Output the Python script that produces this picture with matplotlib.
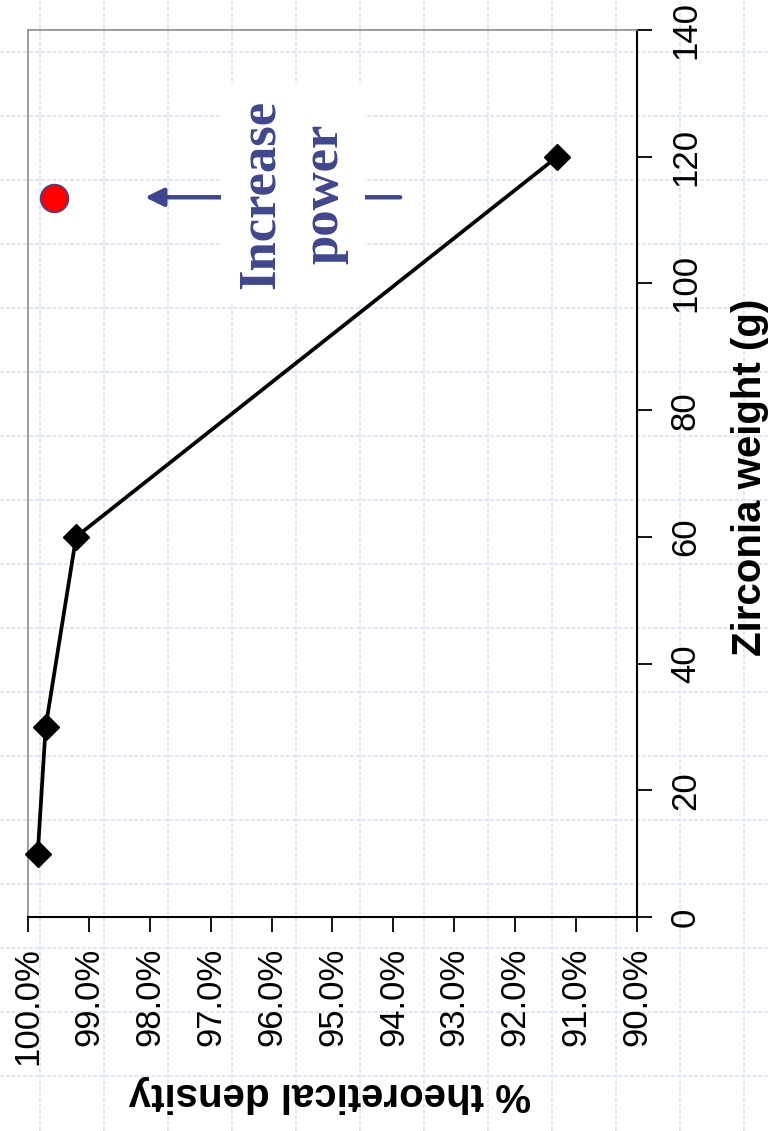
import matplotlib
matplotlib.use('Agg')
import matplotlib.pyplot as plt
import numpy as np

weight = [10, 30, 60, 120]              # zirconia weight (g)
density = [99.84, 99.71, 99.21, 91.31]  # % theoretical density
high_power_weight = [113.5]
high_power_density = [99.57]

density_ticks = np.arange(90, 101, 1)
weight_ticks = np.arange(0, 141, 20)

navy = '#3f468f'
sans = ['Liberation Sans', 'DejaVu Sans']
serif = ['Liberation Serif', 'DejaVu Serif']

fig = plt.figure(figsize=(7.7, 11.31), dpi=100)

# slide background: dashed light blue grid over the whole page
bg = fig.add_axes([0, 0, 1, 1], zorder=0)
bg.set_xlim(0, 770)
bg.set_ylim(1131, 0)
bg.set_xticks(np.arange(40, 770, 64))
bg.set_yticks(np.arange(52, 1131, 64))
bg.grid(True, color='#d9e1fa', linewidth=1.2, linestyle=(0, (2.4, 1.1)))
bg.tick_params(length=0, labelbottom=False, labelleft=False)
for s in bg.spines.values():
    s.set_visible(False)

# chart is drawn turned a quarter turn: density runs along x, weight along y
ax = fig.add_axes([28/770, 214/1131, 609/770, 887/1131], zorder=1)
ax.patch.set_alpha(0)
ax.set_xlim(100, 90)
ax.set_ylim(0, 140)

ax.plot(density, weight, color='black', lw=2.7, marker='D', ms=13,
        mfc='black', mec='black', zorder=4, clip_on=False)
ax.plot(high_power_density, high_power_weight, 'o', ms=20, mfc='red',
        mec=navy, mew=1.2, zorder=4, clip_on=False)

ax.set_xticks(density_ticks)
ax.set_xticklabels(['%.1f%%' % d for d in density_ticks], rotation=90,
                   family=sans, fontsize=25)
ax.set_yticks(weight_ticks)
ax.set_yticklabels([str(w) for w in weight_ticks], rotation=90,
                   va='center', family=sans, fontsize=25)
ax.yaxis.tick_right()
ax.tick_params(axis='x', direction='out', length=11, width=1.3, pad=11,
               colors='black')
ax.tick_params(axis='y', direction='out', length=11, width=1.3, pad=12,
               colors='black')

ax.spines['left'].set_color('#8c8c8c')
ax.spines['top'].set_color('#8c8c8c')
ax.spines['left'].set_linewidth(1.2)
ax.spines['top'].set_linewidth(1.2)
ax.spines['bottom'].set_linewidth(1.5)
ax.spines['right'].set_linewidth(1.5)

# arrow and the boxed note
ax.annotate('', xy=(98.08, 113.6), xytext=(93.89, 113.6),
            arrowprops=dict(arrowstyle='-|>,head_length=0.55,head_width=0.27',
                            color=navy, lw=3.2, shrinkA=0, shrinkB=0,
                            mutation_scale=20), zorder=2)
ax.text(95.65, 114.1, 'Increase\npower', rotation=90, ha='center',
        va='center', multialignment='center', family=serif,
        fontweight='bold', fontsize=38, color=navy, linespacing=1.42,
        zorder=3, bbox=dict(boxstyle='square,pad=0.3', fc='white',
                            ec='none'))

fig.text(750/770, 1 - 477/1131, 'Zirconia weight (g)', rotation=90,
         ha='center', va='center', family=sans, fontweight='bold',
         fontsize=29)
fig.text(330/770, 1 - 1094/1131, '% theoretical density', rotation=180,
         ha='center', va='center', family=sans, fontweight='bold',
         fontsize=29)

fig.savefig('out.png', dpi=100)
